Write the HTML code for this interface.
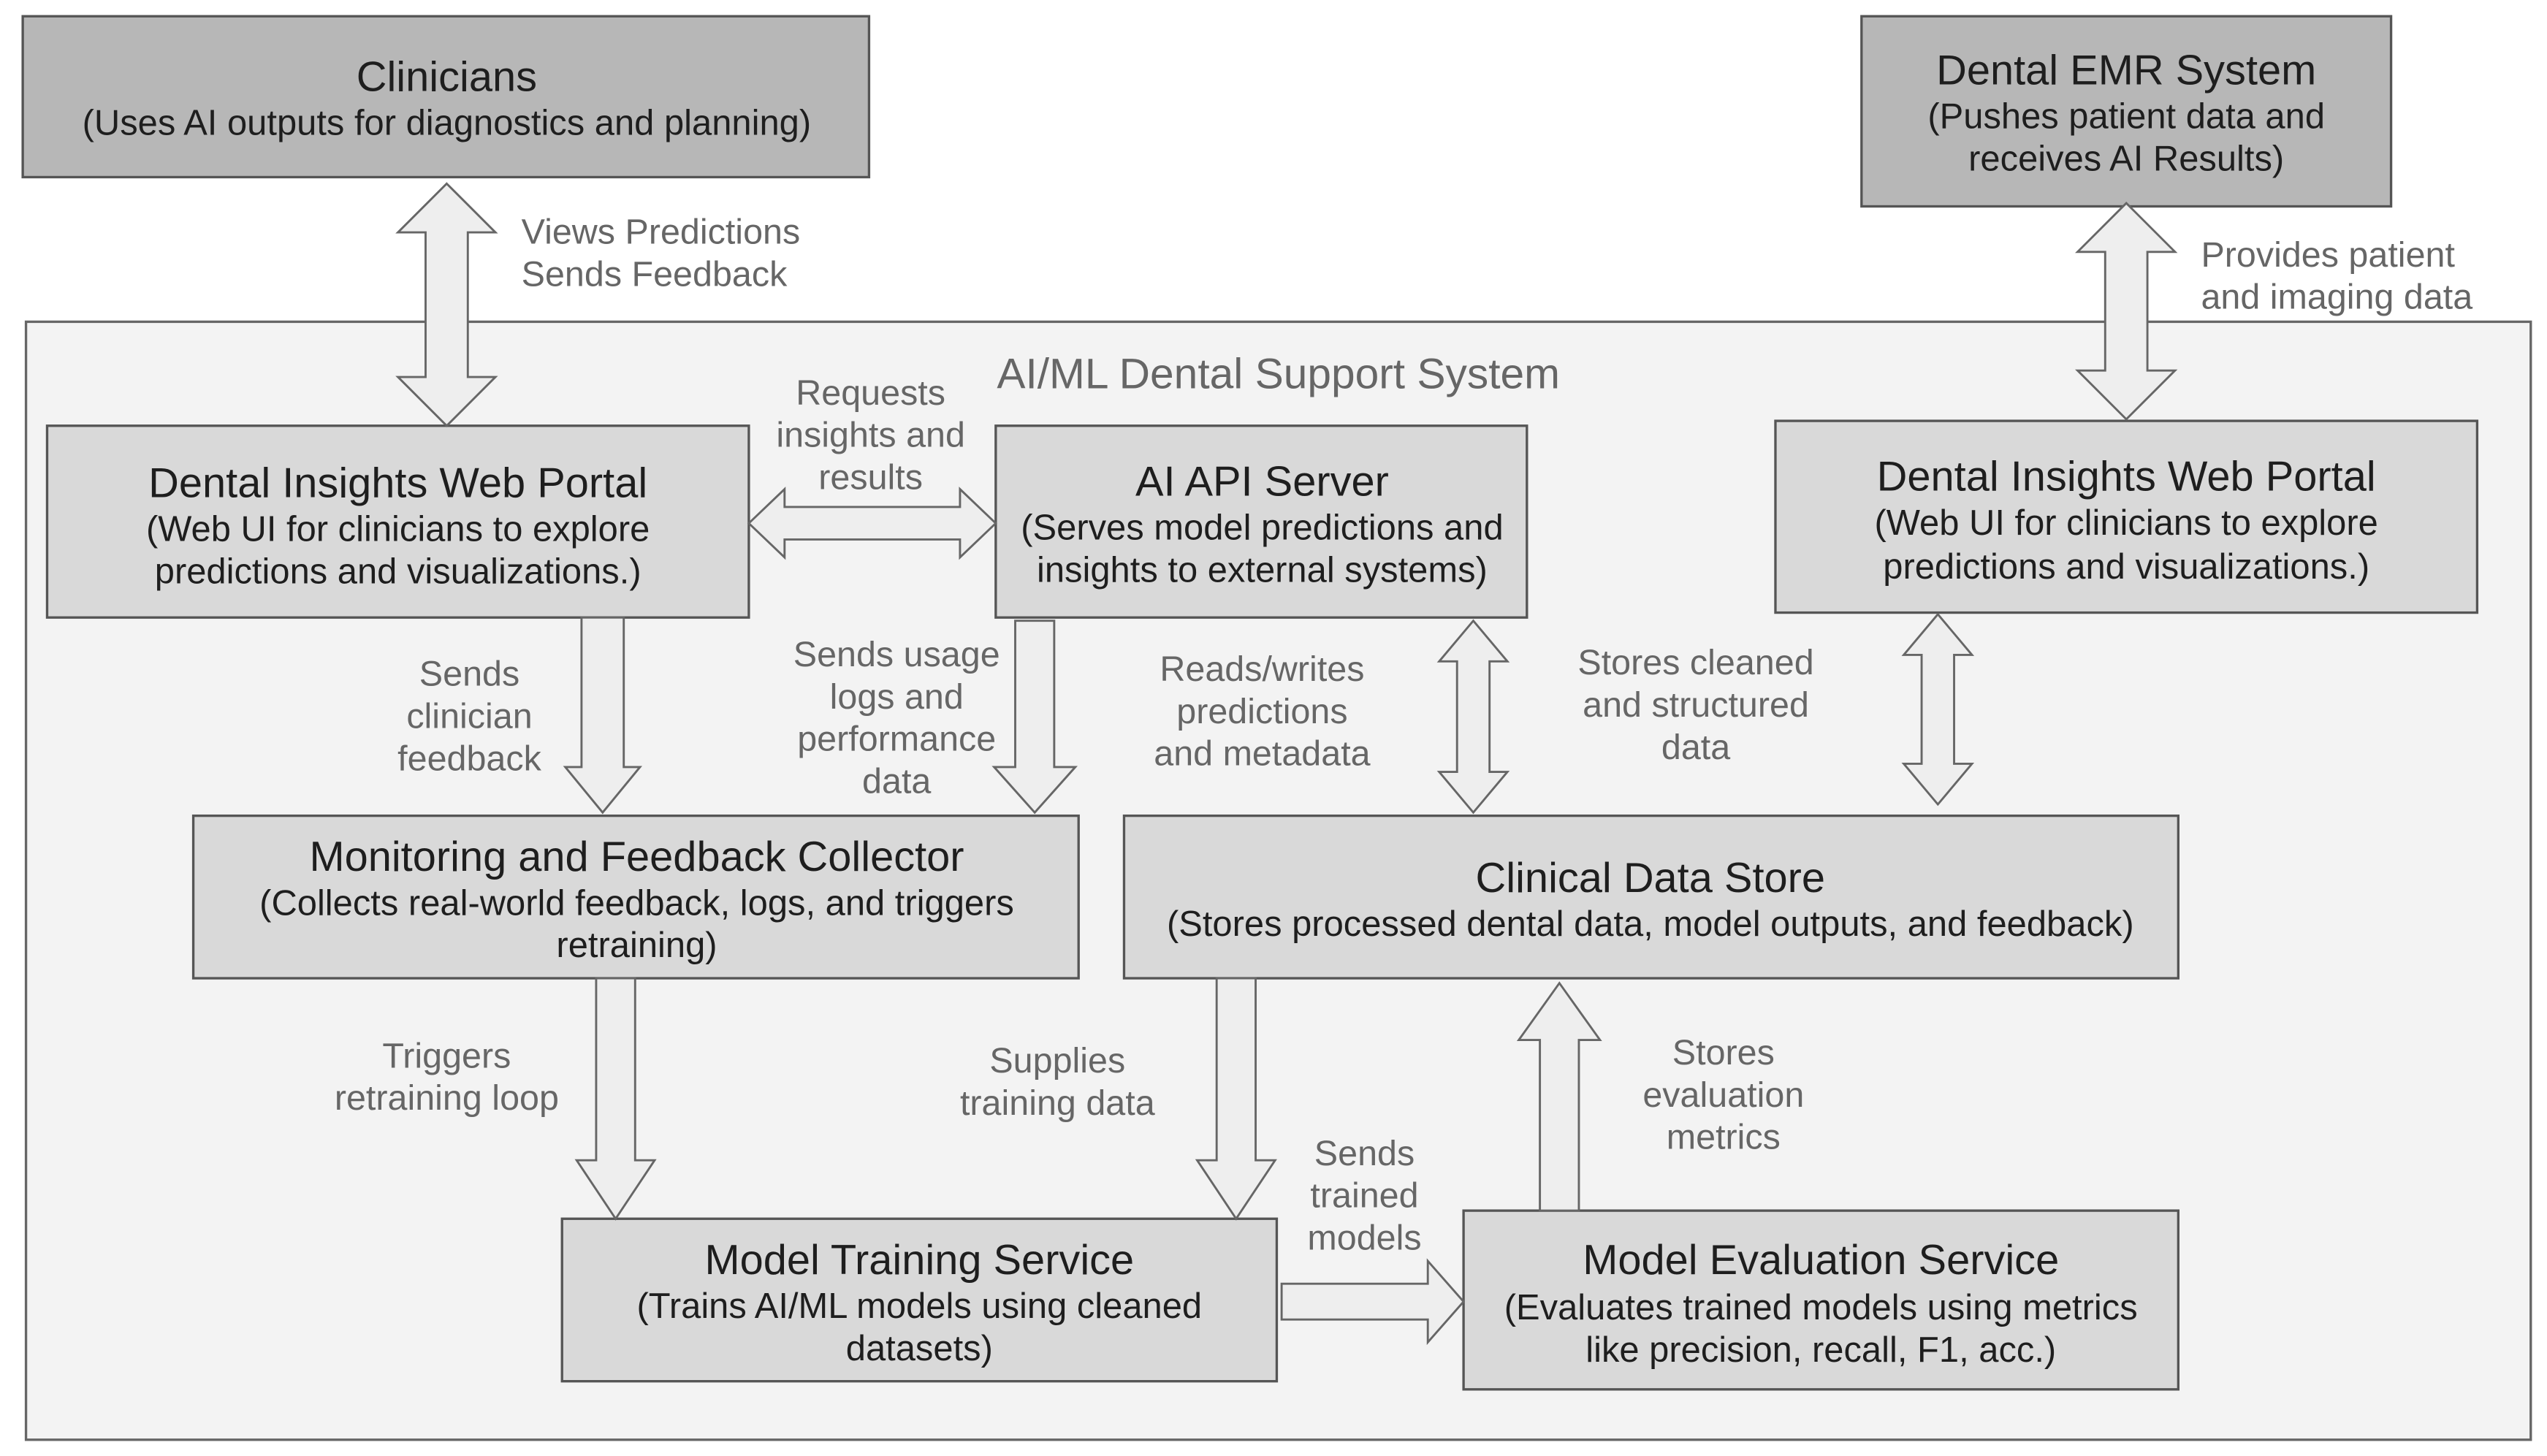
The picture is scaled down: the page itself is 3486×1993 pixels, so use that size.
<!DOCTYPE html>
<html><head><meta charset="utf-8"><style>
html,body{margin:0;padding:0;background:#fff;}
svg{display:block;font-family:"Liberation Sans",Arial,sans-serif;}
svg text{font-family:"Liberation Sans",Arial,sans-serif;}
.t{font-size:26px;fill:#1e1e1e;text-anchor:middle;}
.s{font-size:22px;fill:#1e1e1e;text-anchor:middle;}
.l{font-size:21.8px;fill:#666;text-anchor:middle;}
.a{fill:#eeeeee;stroke:#666;stroke-width:1.3;}
</style></head><body>
<svg width="3486" height="1993" viewBox="0 0 1568 896" preserveAspectRatio="none" xmlns="http://www.w3.org/2000/svg" font-family="Liberation Sans, Arial, sans-serif">
<rect x="0" y="0" width="1568" height="896" fill="#fff"/>
<rect x="16" y="198" width="1542" height="688" fill="#f3f3f3" stroke="#666" stroke-width="1.5"/>
<text x="787" y="239" style="font-size:26.4px;fill:#666;text-anchor:middle">AI/ML Dental Support System</text>

<rect x="14" y="10" width="521" height="99" fill="#b7b7b7" stroke="#555" stroke-width="1.5"/>
<text class="t" x="275" y="56">Clinicians</text>
<text class="s" x="275" y="83">(Uses AI outputs for diagnostics and planning)</text>

<rect x="1146" y="10" width="326" height="117" fill="#b7b7b7" stroke="#555" stroke-width="1.5"/>
<text class="t" x="1309" y="52">Dental EMR System</text>
<text class="s" x="1309" y="79">(Pushes patient data and</text>
<text class="s" x="1309" y="105">receives AI Results)</text>

<rect x="29" y="262" width="432" height="118" fill="#d9d9d9" stroke="#555" stroke-width="1.5"/>
<text class="t" x="245" y="306">Dental Insights Web Portal</text>
<text class="s" x="245" y="333">(Web UI for clinicians to explore</text>
<text class="s" x="245" y="359">predictions and visualizations.)</text>

<rect x="613" y="262" width="327" height="118" fill="#d9d9d9" stroke="#555" stroke-width="1.5"/>
<text class="t" x="777" y="305">AI API Server</text>
<text class="s" x="777" y="332">(Serves model predictions and</text>
<text class="s" x="777" y="358">insights to external systems)</text>

<rect x="1093" y="259" width="432" height="118" fill="#d9d9d9" stroke="#555" stroke-width="1.5"/>
<text class="t" x="1309" y="302">Dental Insights Web Portal</text>
<text class="s" x="1309" y="329">(Web UI for clinicians to explore</text>
<text class="s" x="1309" y="356">predictions and visualizations.)</text>

<rect x="119" y="502" width="545" height="100" fill="#d9d9d9" stroke="#555" stroke-width="1.5"/>
<text class="t" x="392" y="536">Monitoring and Feedback Collector</text>
<text class="s" x="392" y="563">(Collects real-world feedback, logs, and triggers</text>
<text class="s" x="392" y="589">retraining)</text>

<rect x="692" y="502" width="649" height="100" fill="#d9d9d9" stroke="#555" stroke-width="1.5"/>
<text class="t" x="1016" y="549">Clinical Data Store</text>
<text class="s" x="1016" y="576">(Stores processed dental data, model outputs, and feedback)</text>

<rect x="346" y="750" width="440" height="100" fill="#d9d9d9" stroke="#555" stroke-width="1.5"/>
<text class="t" x="566" y="784">Model Training Service</text>
<text class="s" x="566" y="811">(Trains AI/ML models using cleaned</text>
<text class="s" x="566" y="837">datasets)</text>

<rect x="901" y="745" width="440" height="110" fill="#d9d9d9" stroke="#555" stroke-width="1.5"/>
<text class="t" x="1121" y="784">Model Evaluation Service</text>
<text class="s" x="1121" y="812">(Evaluates trained models using metrics</text>
<text class="s" x="1121" y="838">like precision, recall, F1, acc.)</text>

<polygon class="a" points="275,113 305,143 288,143 288,232 305,232 275,262 245,232 262,232 262,143 245,143"/>
<polygon class="a" points="1309,125 1339,155 1322,155 1322,228 1339,228 1309,258 1279,228 1296,228 1296,155 1279,155"/>
<polygon class="a" points="907,382 928,407 917,407 917,475 928,475 907,500 886,475 897,475 897,407 886,407"/>
<polygon class="a" points="1193,378 1214,403 1203,403 1203,470 1214,470 1193,495 1172,470 1183,470 1183,403 1172,403"/>
<polygon class="a" points="461,322 483,301 483,312 591,312 591,301 613,322 591,343 591,332 483,332 483,343"/>
<polygon class="a" points="358,380 384,380 384,472 394,472 371,500 348,472 358,472"/>
<polygon class="a" points="625,382 649,382 649,472 662,472 637,500 612,472 625,472"/>
<polygon class="a" points="367,602 391,602 391,714 403,714 379,750 355,714 367,714"/>
<polygon class="a" points="749,602 773,602 773,714 785,714 761,750 737,714 749,714"/>
<polygon class="a" points="948,745 972,745 972,640 985,640 960,605 935,640 948,640"/>
<polygon class="a" points="789,790 879,790 879,776 901,801 879,826 879,812 789,812"/>

<text class="l" x="321" y="150" style="text-anchor:start">Views Predictions</text>
<text class="l" x="321" y="176" style="text-anchor:start">Sends Feedback</text>
<text class="l" x="1355" y="164" style="text-anchor:start">Provides patient</text>
<text class="l" x="1355" y="190" style="text-anchor:start">and imaging data</text>

<text class="l" x="536" y="249">Requests</text>
<text class="l" x="536" y="275">insights and</text>
<text class="l" x="536" y="301">results</text>

<text class="l" x="289" y="422">Sends</text>
<text class="l" x="289" y="448">clinician</text>
<text class="l" x="289" y="474">feedback</text>

<text class="l" x="552" y="410">Sends usage</text>
<text class="l" x="552" y="436">logs and</text>
<text class="l" x="552" y="462">performance</text>
<text class="l" x="552" y="488">data</text>

<text class="l" x="777" y="419">Reads/writes</text>
<text class="l" x="777" y="445">predictions</text>
<text class="l" x="777" y="471">and metadata</text>

<text class="l" x="1044" y="415">Stores cleaned</text>
<text class="l" x="1044" y="441">and structured</text>
<text class="l" x="1044" y="467">data</text>

<text class="l" x="275" y="657">Triggers</text>
<text class="l" x="275" y="683">retraining loop</text>

<text class="l" x="651" y="660">Supplies</text>
<text class="l" x="651" y="686">training data</text>

<text class="l" x="840" y="717">Sends</text>
<text class="l" x="840" y="743">trained</text>
<text class="l" x="840" y="769">models</text>

<text class="l" x="1061" y="655">Stores</text>
<text class="l" x="1061" y="681">evaluation</text>
<text class="l" x="1061" y="707">metrics</text>
</svg>
</body></html>
